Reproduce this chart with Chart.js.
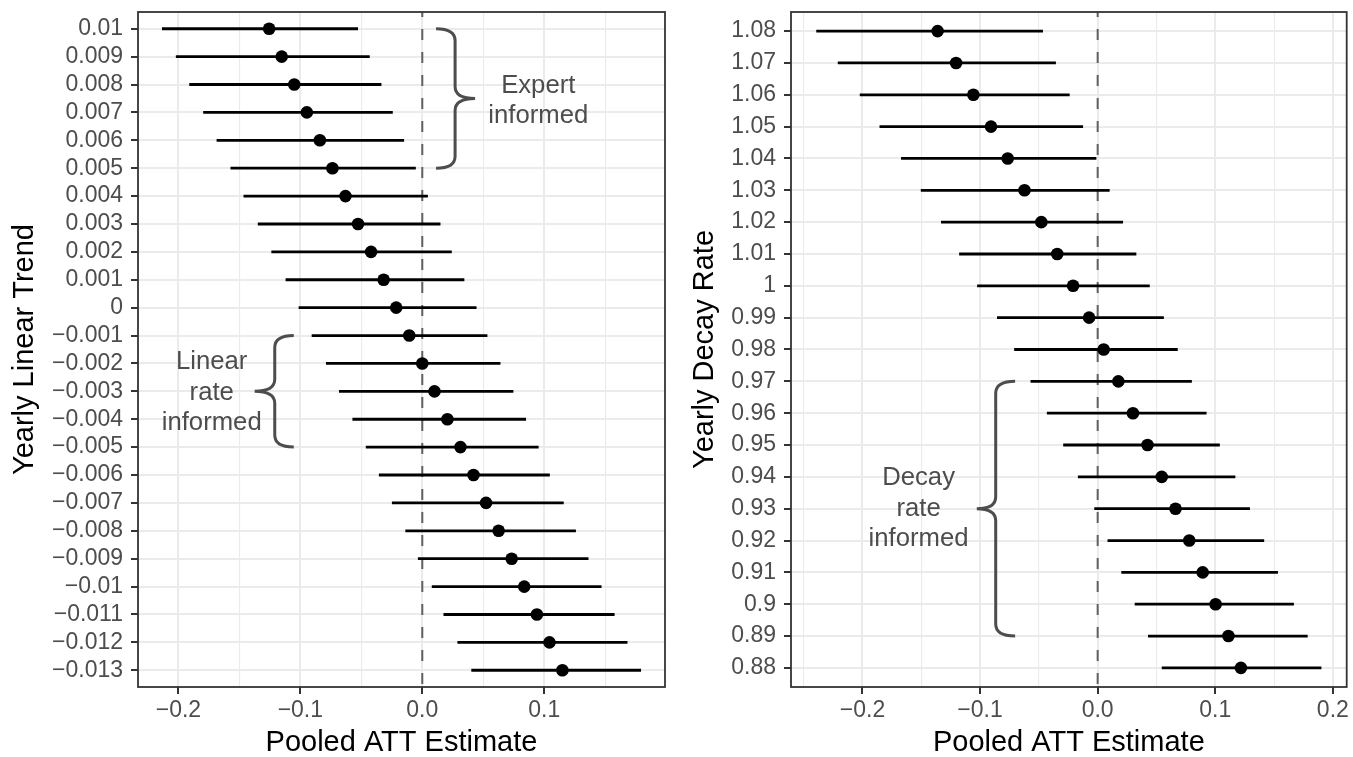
<!DOCTYPE html>
<html>
<head>
<meta charset="utf-8">
<script src="https://cdn.jsdelivr.net/npm/chart.js@4.4.1/dist/chart.umd.min.js"></script>
<style>
  html, body { margin: 0; padding: 0; background: #fff; }
  #wrap { position: relative; width: 1353px; height: 757px; }
  canvas { position: absolute; top: 0; }
  #trend { left: 0; }
  #decay { left: 676px; }
</style>
</head>
<body>
<div id="wrap">
  <canvas id="trend" width="676" height="757"></canvas>
  <canvas id="decay" width="677" height="757"></canvas>
</div>
<script>
// yearly linear trend panel
const trendLabels = ['0.01', '0.009', '0.008', '0.007', '0.006', '0.005', '0.004', '0.003',
  '0.002', '0.001', '0', '\u22120.001', '\u22120.002', '\u22120.003', '\u22120.004', '\u22120.005',
  '\u22120.006', '\u22120.007', '\u22120.008', '\u22120.009', '\u22120.01', '\u22120.011',
  '\u22120.012', '\u22120.013'];
const trendEst = [-0.1256, -0.1153, -0.1050, -0.0947, -0.0840, -0.0737, -0.0630, -0.0527,
  -0.0420, -0.0317, -0.0214, -0.0107, 0.0000, 0.0100, 0.0206, 0.0313,
  0.0420, 0.0523, 0.0626, 0.0733, 0.0836, 0.0940, 0.1043, 0.1149];
const trendLow = [-0.2135, -0.2021, -0.1911, -0.1797, -0.1687, -0.1573, -0.1466, -0.1349,
  -0.1238, -0.1121, -0.1014, -0.0907, -0.0790, -0.0683, -0.0573, -0.0463,
  -0.0356, -0.0249, -0.0139, -0.0036, 0.0078, 0.0174, 0.0288, 0.0402];
const trendHigh = [-0.0527, -0.0431, -0.0335, -0.0242, -0.0149, -0.0053, 0.0046, 0.0149,
  0.0242, 0.0345, 0.0445, 0.0534, 0.0641, 0.0747, 0.0851, 0.0954,
  0.1046, 0.1160, 0.1260, 0.1363, 0.1470, 0.1577, 0.1683, 0.1794];

// yearly decay rate panel
const decayLabels = ['1.08', '1.07', '1.06', '1.05', '1.04', '1.03', '1.02', '1.01', '1',
  '0.99', '0.98', '0.97', '0.96', '0.95', '0.94', '0.93', '0.92', '0.91', '0.9', '0.89', '0.88'];
const decayEst = [-0.1361, -0.1204, -0.1057, -0.0907, -0.0765, -0.0622, -0.0479, -0.0344,
  -0.0209, -0.0073, 0.0051, 0.0176, 0.0300, 0.0424, 0.0545, 0.0662,
  0.0779, 0.0893, 0.1003, 0.1112, 0.1218];
const decayLow = [-0.2393, -0.2210, -0.2023, -0.1855, -0.1672, -0.1504, -0.1332, -0.1178,
  -0.1025, -0.0856, -0.0710, -0.0571, -0.0432, -0.0293, -0.0168, -0.0029,
  0.0084, 0.0201, 0.0315, 0.0428, 0.0545];
const decayHigh = [-0.0465, -0.0355, -0.0238, -0.0124, -0.0011, 0.0102, 0.0216, 0.0329,
  0.0443, 0.0563, 0.0681, 0.0801, 0.0926, 0.1039, 0.1171, 0.1295,
  0.1416, 0.1533, 0.1669, 0.1786, 0.1903];

// shared x axis ticks
const xMajorTicks = [-0.2, -0.1, 0, 0.1, 0.2];
const xMajorLabels = ['\u22120.2', '\u22120.1', '0.0', '0.1', '0.2'];
const xMinorTicks = [-0.25, -0.15, -0.05, 0.05, 0.15];
const refValue = 0;

// curly braces, in data units (x = ATT, y = row index)
const trendBraces = [
  { tip: 0.0113, spine: 0.0269, point: 0.0433, from: 0, to: 5,
    text: ['Expert', 'informed'], textX: 0.0951, textY: 2.6 },
  { tip: -0.1054, spine: -0.1210, point: -0.1375, from: 11, to: 15,
    text: ['Linear', 'rate', 'informed'], textX: -0.1727, textY: 13.04 }
];
const decayBraces = [
  { tip: -0.0702, spine: -0.0867, point: -0.1028, from: 11, to: 19,
    text: ['Decay', 'rate', 'informed'], textX: -0.1523, textY: 15.0 }
];

const FONT = "'Liberation Sans', Arial, Helvetica, sans-serif";
const INK = '#4D4D4D';

function drawBrace(ctx, x, y, b) {
  const xt = x.getPixelForValue(b.tip);
  const xs = x.getPixelForValue(b.spine);
  const xp = x.getPixelForValue(b.point);
  const y0 = y.getPixelForValue(b.from);
  const y1 = y.getPixelForValue(b.to);
  const ym = (y0 + y1) / 2;
  const r = 12;
  ctx.beginPath();
  ctx.moveTo(xt, y0);
  ctx.quadraticCurveTo(xs, y0, xs, y0 + r);
  ctx.lineTo(xs, ym - r);
  ctx.quadraticCurveTo(xs, ym, xp, ym);
  ctx.quadraticCurveTo(xs, ym, xs, ym + r);
  ctx.lineTo(xs, y1 - r);
  ctx.quadraticCurveTo(xs, y1, xt, y1);
  ctx.stroke();

  const tx = x.getPixelForValue(b.textX);
  const ty = y.getPixelForValue(b.textY);
  const gap = 30.3;
  b.text.forEach((line, i) => {
    ctx.fillText(line, tx, ty + (i - (b.text.length - 1) / 2) * gap);
  });
}

function decor(braces) {
  return {
    id: 'decor',
    beforeDatasetsDraw(chart) {
      const { ctx, chartArea: a, scales: { x } } = chart;
      const px = x.getPixelForValue(refValue);
      ctx.save();
      ctx.strokeStyle = '#606060';
      ctx.lineWidth = 2;
      ctx.setLineDash([11, 12]);
      ctx.lineDashOffset = 6;
      ctx.beginPath();
      ctx.moveTo(px, a.top);
      ctx.lineTo(px, a.bottom);
      ctx.stroke();
      ctx.restore();
    },
    afterDatasetsDraw(chart) {
      const { ctx, scales: { x, y } } = chart;
      ctx.save();
      ctx.strokeStyle = INK;
      ctx.fillStyle = INK;
      ctx.lineWidth = 3;
      ctx.font = '25.7px ' + FONT;
      ctx.textAlign = 'center';
      ctx.textBaseline = 'middle';
      braces.forEach(b => drawBrace(ctx, x, y, b));
      ctx.restore();
    },
    afterDraw(chart) {
      const { ctx, chartArea: a } = chart;
      ctx.save();
      ctx.strokeStyle = '#333333';
      ctx.lineWidth = 1.8;
      ctx.strokeRect(a.left, a.top, a.right - a.left, a.bottom - a.top);
      ctx.restore();
    }
  };
}

function buildPanel(canvasId, p) {
  const n = p.labels.length;
  const lo = Math.min(...p.low);
  const hi = Math.max(...p.high);
  const span = hi - lo;
  const xMin = lo - span * 0.05;
  const xMax = hi + span * 0.05;
  const xTicks = xMajorTicks.concat(xMinorTicks)
    .filter(v => v >= xMin && v <= xMax)
    .sort((a, b) => a - b);
  const isMajor = v => xMajorTicks.includes(v);

  return new Chart(document.getElementById(canvasId), {
    type: 'scatter',
    data: {
      datasets: [
        {
          type: 'scatter',
          data: p.est.map((v, i) => ({ x: v, y: i })),
          pointRadius: 6.3,
          pointBackgroundColor: '#000',
          pointBorderWidth: 0,
          order: 0
        },
        {
          type: 'bar',
          indexAxis: 'y',
          data: p.low.map((v, i) => ({ x: [v, p.high[i]], y: i })),
          backgroundColor: '#000',
          borderWidth: 0,
          barThickness: 2.8,
          inflateAmount: 0,
          order: 1
        }
      ]
    },
    options: {
      responsive: false,
      animation: false,
      devicePixelRatio: 1,
      events: [],
      layout: { padding: { top: 12, right: p.padRight, left: 0, bottom: 0 } },
      plugins: { legend: { display: false }, tooltip: { enabled: false } },
      scales: {
        x: {
          type: 'linear',
          min: xMin,
          max: xMax,
          offset: false,
          afterBuildTicks: axis => { axis.ticks = xTicks.map(v => ({ value: v })); },
          afterFit: axis => {
            axis.height = 70;
            axis.paddingLeft = 0;
            axis.paddingRight = 0;
          },
          border: { display: false },
          grid: {
            offset: false,
            color: '#EBEBEB',
            lineWidth: c => (c.tick && isMajor(c.tick.value)) ? 2 : 1.1,
            tickColor: c => (c.tick && isMajor(c.tick.value)) ? '#333333' : 'rgba(0,0,0,0)',
            tickLength: 7,
            tickWidth: 2
          },
          ticks: {
            autoSkip: false,
            maxRotation: 0,
            padding: 5,
            color: INK,
            font: { family: FONT, size: 23, lineHeight: 1 },
            callback: v => {
              const k = xMajorTicks.indexOf(v);
              return k < 0 ? '' : xMajorLabels[k];
            }
          },
          title: {
            display: true,
            text: 'Pooled ATT Estimate',
            color: '#000',
            font: { family: FONT, size: 29, lineHeight: 1 },
            padding: { top: 0, bottom: 0 }
          }
        },
        y: {
          type: 'linear',
          reverse: true,
          min: -0.6,
          max: n - 0.4,
          offset: false,
          afterBuildTicks: axis => { axis.ticks = p.labels.map((_, i) => ({ value: i })); },
          afterFit: axis => {
            axis.width = p.yWidth;
            axis.paddingTop = 0;
            axis.paddingBottom = 0;
          },
          border: { display: false },
          grid: {
            offset: false,
            color: '#EBEBEB',
            lineWidth: 2,
            tickColor: '#333333',
            tickLength: 7,
            tickWidth: 2
          },
          ticks: {
            autoSkip: false,
            padding: 8,
            color: INK,
            font: { family: FONT, size: 23, lineHeight: 1 },
            callback: v => p.labels[v]
          },
          title: {
            display: true,
            text: p.title,
            color: '#000',
            font: { family: FONT, size: 29, lineHeight: 1 },
            padding: { top: p.titlePad, bottom: 0 }
          }
        }
      }
    },
    plugins: [decor(p.braces)]
  });
}

buildPanel('trend', {
  labels: trendLabels, est: trendEst, low: trendLow, high: trendHigh,
  title: 'Yearly Linear Trend', yWidth: 138, padRight: 11, titlePad: 10, braces: trendBraces
});
buildPanel('decay', {
  labels: decayLabels, est: decayEst, low: decayLow, high: decayHigh,
  title: 'Yearly Decay Rate', yWidth: 115, padRight: 6, titlePad: 14, braces: decayBraces
});
</script>
</body>
</html>
